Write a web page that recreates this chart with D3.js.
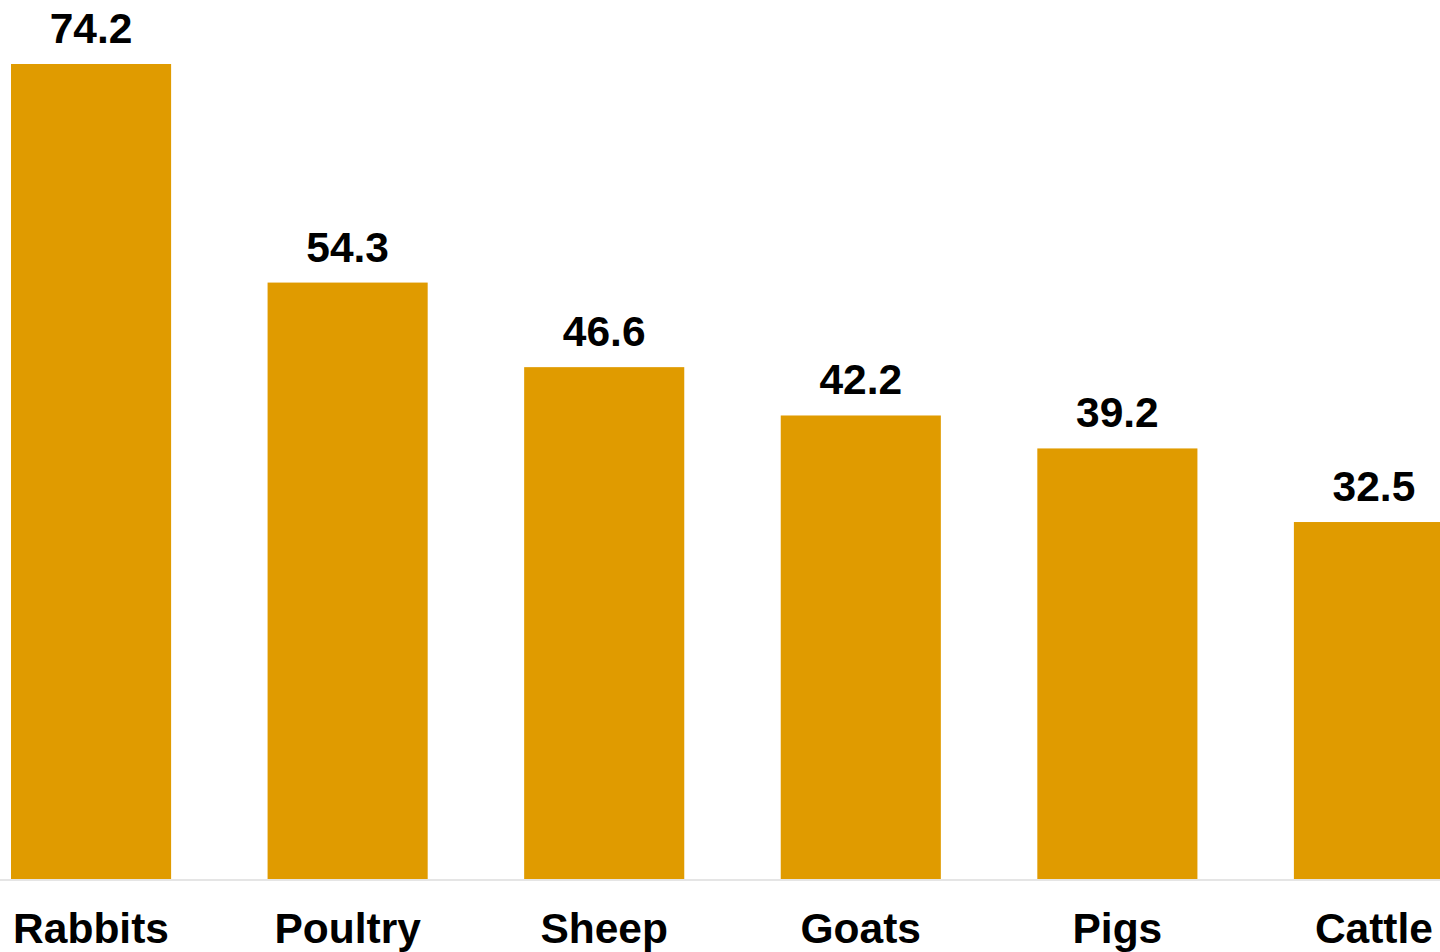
<!DOCTYPE html>
<html>
<head>
<meta charset="utf-8">
<script src="https://cdn.jsdelivr.net/npm/d3@7"></script>
<style>
html,body{margin:0;padding:0;background:#fff;overflow:hidden;}
svg{display:block;}
</style>
</head>
<body>
<svg id="chart" width="1440" height="952"></svg>
<script>
const categories = ["Rabbits", "Poultry", "Sheep", "Goats", "Pigs", "Cattle"];
const values = [74.2, 54.3, 46.6, 42.2, 39.2, 32.5];

const svg = d3.select("#chart");
const baseY = 879;
const x = d3.scaleBand().domain(categories).range([11, 1454]).paddingInner(0.376).paddingOuter(0);
const y = d3.scaleLinear().domain([0, 74.2]).range([baseY, 64]);

svg.selectAll("rect.bar").data(categories).enter().append("rect")
  .attr("class", "bar")
  .attr("x", d => x(d))
  .attr("width", x.bandwidth())
  .attr("y", (d, i) => y(values[i]))
  .attr("height", (d, i) => baseY - y(values[i]))
  .attr("fill", "#E09B00");

svg.append("line").attr("x1", 0).attr("x2", 1440).attr("y1", baseY + 1).attr("y2", baseY + 1)
  .attr("stroke", "#dcdcdc").attr("stroke-width", 1.5);

svg.selectAll("text.val").data(categories).enter().append("text")
  .attr("class", "val")
  .attr("x", d => x(d) + x.bandwidth() / 2)
  .attr("y", (d, i) => y(values[i]) - 21)
  .attr("text-anchor", "middle")
  .attr("font-family", "Liberation Sans, Arial, sans-serif")
  .attr("font-weight", "bold")
  .attr("font-size", 42.5)
  .attr("fill", "#000")
  .text((d, i) => values[i].toFixed(1));

svg.selectAll("text.cat").data(categories).enter().append("text")
  .attr("class", "cat")
  .attr("x", d => x(d) + x.bandwidth() / 2)
  .attr("y", 943)
  .attr("text-anchor", "middle")
  .attr("font-family", "Liberation Sans, Arial, sans-serif")
  .attr("font-weight", "bold")
  .attr("font-size", 42.5)
  .attr("fill", "#000")
  .text(d => d);
</script>
</body>
</html>
